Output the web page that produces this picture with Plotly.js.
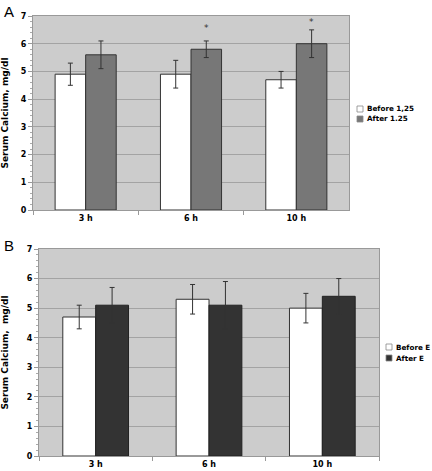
<!DOCTYPE html>
<html>
<head>
<meta charset="utf-8">
<script src="https://cdn.plot.ly/plotly-3.0.1.min.js"></script>
<style>html,body{margin:0;padding:0;background:#fff;}#chart{width:432px;height:471px;}</style>
</head>
<body>
<div id="chart"></div>
<script>
var categories = ['3 h', '6 h', '10 h'];
var tickValsY = [0, 1, 2, 3, 4, 5, 6, 7];

var beforeA = [4.9, 4.9, 4.7];
var beforeAErr = [0.4, 0.5, 0.3];
var afterA = [5.6, 5.8, 6.0];
var afterAErr = [0.5, 0.3, 0.5];
var labelsA = ['Before 1,25', 'After 1.25'];

var beforeB = [4.7, 5.3, 5.0];
var beforeBErr = [0.4, 0.5, 0.5];
var afterB = [5.1, 5.1, 5.4];
var afterBErr = [0.6, 0.8, 0.6];
var labelsB = ['Before E', 'After E'];

var starCats = [1, 2];         // category index of significant "after" bars (panel A)
var starY = [6.57, 6.8];

var colBefore = '#ffffff', colAfterA = '#777777', colAfterB = '#333333';

var W = 432, H = 471;
var FONT = 'DejaVu Sans, Verdana, sans-serif';

function errStyle(arr) {
  return {type: 'data', array: arr, visible: true, color: '#333', thickness: 1, width: 2.5};
}

var traces = [
  {type: 'bar', name: labelsA[0], x: categories, y: beforeA, xaxis: 'x', yaxis: 'y',
   marker: {color: colBefore, line: {color: '#333', width: 1}}, error_y: errStyle(beforeAErr)},
  {type: 'bar', name: labelsA[1], x: categories, y: afterA, xaxis: 'x', yaxis: 'y',
   marker: {color: colAfterA, line: {color: '#333', width: 1}}, error_y: errStyle(afterAErr)},
  {type: 'bar', name: labelsB[0], x: categories, y: beforeB, xaxis: 'x2', yaxis: 'y2',
   marker: {color: colBefore, line: {color: '#333', width: 1}}, error_y: errStyle(beforeBErr)},
  {type: 'bar', name: labelsB[1], x: categories, y: afterB, xaxis: 'x2', yaxis: 'y2',
   marker: {color: colAfterB, line: {color: '#222', width: 1}}, error_y: errStyle(afterBErr)}
];

function xAxis(domain, anchor) {
  return {domain: domain, anchor: anchor, type: 'category', showgrid: false,
    showline: true, linecolor: '#999', linewidth: 1, mirror: true,
    ticks: 'outside', tickson: 'boundaries', ticklen: 4, tickcolor: '#999',
    tickfont: {family: FONT, size: 8, color: '#000', weight: 'bold'}, fixedrange: true};
}
function yAxis(domain, anchor, standoff, titleText) {
  return {domain: domain, anchor: anchor, range: [0, 7], tickvals: tickValsY,
    showgrid: true, gridcolor: '#a3a3a3', gridwidth: 1, zeroline: false,
    showline: true, linecolor: '#999', linewidth: 1, mirror: true,
    ticks: 'outside', ticklen: 4, tickcolor: '#999',
    minor: {dtick: 0.2, ticks: 'outside', ticklen: 2, tickcolor: '#aaa', showgrid: false},
    tickfont: {family: FONT, size: 8, color: '#000', weight: 'bold'},
    title: {text: titleText, standoff: standoff, font: {family: FONT, size: 9, color: '#000', weight: 'bold'}},
    fixedrange: true};
}

var annotations = [
  {text: 'A', xref: 'paper', yref: 'paper', x: 2 / W, y: 1 - 1 / H, xanchor: 'left', yanchor: 'top',
   showarrow: false, font: {family: 'Liberation Sans, Arial, sans-serif', size: 15, color: '#000'}},
  {text: 'B', xref: 'paper', yref: 'paper', x: 2 / W, y: 1 - 235 / H, xanchor: 'left', yanchor: 'top',
   showarrow: false, font: {family: 'Liberation Sans, Arial, sans-serif', size: 15, color: '#000'}}
];
for (var i = 0; i < starCats.length; i++) {
  annotations.push({text: '*', xref: 'x', yref: 'y', x: starCats[i] + 0.145, y: starY[i],
    xanchor: 'center', yanchor: 'middle', showarrow: false,
    font: {family: FONT, size: 9, color: '#333'}});
}

// legend boxes (drawn as text + swatches)
var shapes = [];
var legendSpecs = [
  {x: 357, y: 109, label: labelsA[0], color: colBefore},
  {x: 357, y: 119, label: labelsA[1], color: colAfterA},
  {x: 386, y: 347, label: labelsB[0], color: colBefore},
  {x: 386, y: 358, label: labelsB[1], color: colAfterB}
];
legendSpecs.forEach(function (s) {
  shapes.push({type: 'rect', xref: 'paper', yref: 'paper',
    x0: s.x / W, x1: (s.x + 6) / W, y0: 1 - (s.y + 3) / H, y1: 1 - (s.y - 3) / H,
    fillcolor: s.color, line: {color: '#888', width: 0.8}});
  annotations.push({text: s.label, xref: 'paper', yref: 'paper', x: (s.x + 7.5) / W, y: 1 - s.y / H,
    xanchor: 'left', yanchor: 'middle', showarrow: false,
    font: {family: FONT, size: 7.2, color: '#000', weight: 'bold'}});
});

var layout = {
  width: W, height: H,
  margin: {l: 0, r: 0, t: 0, b: 0},
  paper_bgcolor: '#ffffff', plot_bgcolor: '#cccccc',
  barmode: 'group', bargap: 0.42, bargroupgap: 0,
  showlegend: false,
  xaxis: xAxis([33 / W, 349 / W], 'y'),
  yaxis: yAxis([1 - 210 / H, 1 - 16 / H], 'x', 10, 'Serum Calcium, mg/dl'),
  xaxis2: xAxis([39 / W, 379 / W], 'y2'),
  yaxis2: yAxis([1 - 456 / H, 1 - 249 / H], 'x2', 20, 'Serum Calcium,  mg/dl'),
  annotations: annotations,
  shapes: shapes
};

Plotly.newPlot('chart', traces, layout, {displayModeBar: false, staticPlot: true});
</script>
</body>
</html>
